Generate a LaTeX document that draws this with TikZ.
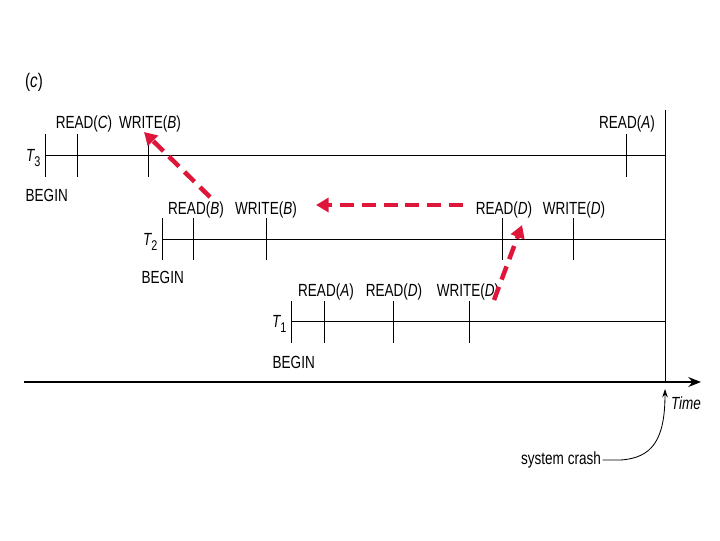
\documentclass[tikz,border=0pt]{standalone}
\usepackage{fontspec}
\setmainfont{Liberation Sans}[FakeStretch=0.77]
\usetikzlibrary{arrows.meta,positioning,calc}
\definecolor{crashred}{RGB}{222,22,58}
\newcommand{\tsub}[1]{{\itshape T}\raisebox{-0.45ex}{\fontsize{10}{11}\selectfont #1}}

\begin{document}
\begin{tikzpicture}[x=0.025cm,y=-0.025cm,
    lbl/.style={font=\fontsize{12.5}{14}\selectfont,inner sep=1pt},
    tline/.style={black,line width=0.6pt},
    redflow/.style={crashred,line width=3.2pt,dash pattern=on 10pt off 5.5pt,
      -{Triangle[length=9pt,width=10pt]}}]
    \useasboundingbox (0,0) rectangle (720,540);
    \node[lbl,font=\fontsize{14}{16}\selectfont] (tag) at (34,82) {(\textit{c})};
    % timelines
    \foreach \y/\s/\k in {155/45/3,239/162/2,321/291/1}
      \draw[tline] (\s,\y) -- (665,\y);
    \node[lbl,anchor=east] (t3) at (42,158) {\tsub{3}};
    \node[lbl,anchor=east] (t2) at (159,242) {\tsub{2}};
    \node[lbl,anchor=east] (t1) at (288,324) {\tsub{1}};
    % ticks
    \foreach \x in {45,77,148,626} \draw[tline] (\x,134) -- (\x,177);
    \foreach \x in {162,193,266,502,573} \draw[tline] (\x,218) -- (\x,260);
    \foreach \x in {291,324,393,469} \draw[tline] (\x,301) -- (\x,343);
    % events
    \foreach \x/\t/\n in {84/READ(\textit{C})/rc3,150/WRITE(\textit{B})/wb3,627/READ(\textit{A})/ra3}
      \node[lbl,anchor=base] (\n) at (\x,128) {\t};
    \foreach \x/\t/\n in {196/READ(\textit{B})/rb2,266/WRITE(\textit{B})/wb2,504/READ(\textit{D})/rd2,574/WRITE(\textit{D})/wd2}
      \node[lbl,anchor=base] (\n) at (\x,214) {\t};
    \foreach \x/\t/\n in {326/READ(\textit{A})/ra1,394/READ(\textit{D})/rd1,468/WRITE(\textit{D})/wd1}
      \node[lbl,anchor=base] (\n) at (\x,296) {\t};
    \node[lbl,anchor=base west] (b3) at (24,201) {BEGIN};
    \node[lbl,anchor=base west] (b2) at (140,283) {BEGIN};
    \node[lbl,anchor=base west] (b1) at (271,368) {BEGIN};
    % time axis and crash
    \draw[line width=1.3pt,-{Stealth[length=9pt,width=7pt]}] (24,382) -- (701,382);
    \draw[tline] (665,110) -- (665,382);
    \node[lbl,anchor=base] (time) at (686,409) {\textit{Time}};
    \node[lbl] (crash) at (561,460) {system crash};
    \coordinate (hit) at (665,389);
    \draw[tline,-{Stealth[length=6pt,width=4pt]}] (crash.east) -- ++(18,0)
      .. controls (652,458) and (665,440) .. (hit);
    % dependencies
    \coordinate (f1) at (210,197);
    \coordinate (g1) at (144,132);
    \coordinate (f2) at (463,205);
    \coordinate (g2) at (316,205);
    \coordinate (f3) at (494,300);
    \coordinate (g3) at (522,225);
    \draw[redflow] (f1) -- (g1);
    \draw[redflow] (f2) -- (g2);
    \draw[redflow] (f3) -- (g3);
\end{tikzpicture}
\end{document}
